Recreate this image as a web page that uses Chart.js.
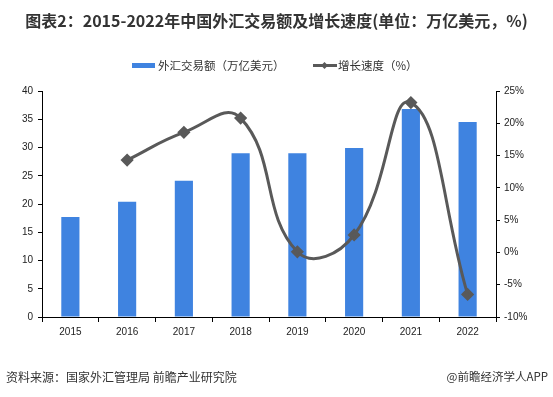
<!DOCTYPE html>
<html><head><meta charset="utf-8">
<script src="https://cdn.jsdelivr.net/npm/chart.js@4.4.1/dist/chart.umd.min.js"></script>
<style>
html,body{margin:0;padding:0;background:#fff;width:553px;height:397px;overflow:hidden;font-family:"Noto Sans CJK SC","Noto Sans",sans-serif;}
#wrap{position:absolute;left:0;top:0;width:553px;height:397px;}
#title{position:absolute;left:0;width:553px;top:9px;text-align:center;font-weight:bold;font-size:16px;color:#333;line-height:22px;white-space:nowrap;}
#legend{position:absolute;top:56px;left:0;width:553px;height:18px;font-size:11.5px;color:#333;}
.lg{position:absolute;top:0;line-height:18px;white-space:nowrap;}
#src{position:absolute;left:6px;top:368px;font-size:12px;color:#333;white-space:nowrap;}
#app{position:absolute;right:5px;top:368px;font-size:11.5px;color:#333;white-space:nowrap;}
</style></head>
<body>
<div id="wrap"><canvas id="c" width="553" height="397"></canvas></div>
<div id="title">图表2：2015-2022年中国外汇交易额及增长速度(单位：万亿美元，%)</div>
<div id="legend">
  <div style="position:absolute;left:132px;top:7px;width:23px;height:5px;background:#3f83e0"></div>
  <div class="lg" style="left:158px">外汇交易额（万亿美元）</div>
  <div style="position:absolute;left:313px;top:8px;width:24px;height:3px;background:#595959"></div>
  <div style="position:absolute;left:322px;top:6.5px;width:5px;height:5px;background:#595959;transform:rotate(45deg)"></div>
  <div class="lg" style="left:338px">增长速度（%）</div>
</div>
<div id="src">资料来源：国家外汇管理局 前瞻产业研究院</div>
<div id="app">@前瞻经济学人APP</div>
<script>
const categories = ["2015","2016","2017","2018","2019","2020","2021","2022"];
const tradeVolume = [17.7, 20.4, 24.1, 29.0, 29.0, 29.9, 36.8, 34.5];
const growthRate = [null, 14.3, 18.6, 20.8, 0.1, 2.7, 23.2, -6.5];
const leftTicks = [0,5,10,15,20,25,30,35,40];
const rightTicks = [-10,-5,0,5,10,15,20,25];

const tickFont = {family:"'Liberation Sans', Arial, sans-serif", size:10};
new Chart(document.getElementById('c'), {
  data: {
    labels: categories,
    datasets: [
      {type:'line', label:'增长速度（%）', data: growthRate, yAxisID:'yR',
       borderColor:'#595959', backgroundColor:'#595959', borderWidth:3,
       tension:0.45, pointStyle:'rectRot', pointRadius:4.5, pointHoverRadius:4.5,
       pointBackgroundColor:'#595959', pointBorderColor:'#595959', order:0},
      {type:'bar', label:'外汇交易额（万亿美元）', data: tradeVolume, yAxisID:'yL',
       backgroundColor:'#3f83e0', categoryPercentage:1, barPercentage:0.32, order:1}
    ]
  },
  options: {
    responsive:false, animation:false, devicePixelRatio:1,
    layout:{padding:{top:91, left:0, right:0, bottom:0}},
    plugins:{legend:{display:false}, title:{display:false}, tooltip:{enabled:false}},
    scales:{
      x:{
        grid:{display:true, drawOnChartArea:false, drawTicks:true, tickLength:5, color:'#000', offset:true},
        border:{display:true, color:'#000', width:1},
        ticks:{font:tickFont, color:'#222', padding:4, maxRotation:0},
        afterFit(s){ s.height = 80; }
      },
      yL:{
        position:'left', min:0, max:40,
        afterBuildTicks(s){ s.ticks = leftTicks.map(v=>({value:v})); },
        grid:{display:true, drawOnChartArea:false, drawTicks:true, tickLength:4, color:'#000'},
        border:{display:true, color:'#000', width:1},
        ticks:{font:tickFont, color:'#222', padding:5},
        afterFit(s){ s.width = 42; }
      },
      yR:{
        position:'right', min:-10, max:25,
        afterBuildTicks(s){ s.ticks = rightTicks.map(v=>({value:v})); },
        grid:{display:true, drawOnChartArea:false, drawTicks:true, tickLength:4, color:'#000'},
        border:{display:true, color:'#000', width:1},
        ticks:{font:tickFont, color:'#222', padding:4, callback:v=>v+'%'},
        afterFit(s){ s.width = 57; }
      }
    }
  }
});
</script>
</body></html>
